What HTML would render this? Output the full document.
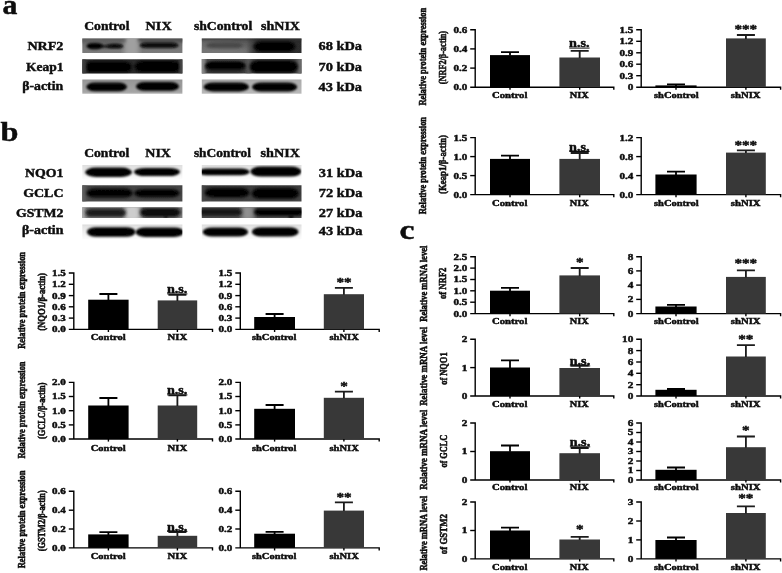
<!DOCTYPE html>
<html lang="en"><head><meta charset="utf-8"><title>Figure</title>
<style>
html,body{margin:0;padding:0;background:#fff;}
body{width:782px;height:573px;overflow:hidden;}
svg{display:block;}
svg text{font-family:"Liberation Serif", "DejaVu Serif", serif;font-weight:bold;fill:#0a0a0a;stroke:#0a0a0a;stroke-width:.42px;}
svg text.r{stroke-width:.55px;}
</style></head><body>
<svg width="782" height="573" viewBox="0 0 782 573">
<defs>
<filter id="b1" x="-20%" y="-60%" width="140%" height="220%"><feGaussianBlur stdDeviation="1.1"/></filter>
<filter id="b2" x="-20%" y="-60%" width="140%" height="220%"><feGaussianBlur stdDeviation="1.8"/></filter>
<filter id="b3" x="-20%" y="-60%" width="140%" height="220%"><feGaussianBlur stdDeviation="2.6"/></filter>
<filter id="soft" x="0" y="0" width="782" height="573" filterUnits="userSpaceOnUse"><feGaussianBlur stdDeviation="0.45"/></filter>
</defs>
<rect width="782" height="573" fill="#fff"/>
<g filter="url(#soft)">

<g>
<text transform="translate(2.4,13.6) scale(1.08,1)" font-size="27.5">a</text>
<text transform="translate(0.5,140.9) scale(1.16,1)" font-size="27.8">b</text>
<text transform="translate(399.4,238.9) scale(1.2,1)" font-size="28">c</text>
</g>
<text x="84.2" y="30.3" font-size="13.4" textLength="45.3" lengthAdjust="spacingAndGlyphs">Control</text>
<text x="145.6" y="30.3" font-size="13.4" textLength="26.1" lengthAdjust="spacingAndGlyphs">NIX</text>
<text x="193.9" y="30.3" font-size="13.4" textLength="58.4" lengthAdjust="spacingAndGlyphs">shControl</text>
<text x="261.0" y="30.3" font-size="13.4" textLength="39.0" lengthAdjust="spacingAndGlyphs">shNIX</text>
<text x="27.4" y="50.4" font-size="13.4" textLength="36.0" lengthAdjust="spacingAndGlyphs">NRF2</text>
<text x="25.9" y="70.8" font-size="13.4" textLength="37.5" lengthAdjust="spacingAndGlyphs">Keap1</text>
<text x="22.2" y="90.2" font-size="13.4" textLength="41.0" lengthAdjust="spacingAndGlyphs">β-actin</text>
<text x="318.5" y="50.3" font-size="13.4" textLength="43.5" lengthAdjust="spacingAndGlyphs">68 kDa</text>
<text x="318.5" y="70.7" font-size="13.4" textLength="43.5" lengthAdjust="spacingAndGlyphs">70 kDa</text>
<text x="318.5" y="90.5" font-size="13.4" textLength="43.5" lengthAdjust="spacingAndGlyphs">43 kDa</text>
<text x="84.2" y="156.9" font-size="13.4" textLength="45.1" lengthAdjust="spacingAndGlyphs">Control</text>
<text x="145.3" y="156.9" font-size="13.4" textLength="25.7" lengthAdjust="spacingAndGlyphs">NIX</text>
<text x="193.9" y="156.9" font-size="13.4" textLength="57.1" lengthAdjust="spacingAndGlyphs">shControl</text>
<text x="260.6" y="156.9" font-size="13.4" textLength="39.4" lengthAdjust="spacingAndGlyphs">shNIX</text>
<text x="25.0" y="176.7" font-size="13.4" textLength="38.5" lengthAdjust="spacingAndGlyphs">NQO1</text>
<text x="23.2" y="196.7" font-size="13.4" textLength="40.3" lengthAdjust="spacingAndGlyphs">GCLC</text>
<text x="15.9" y="216.6" font-size="13.4" textLength="47.6" lengthAdjust="spacingAndGlyphs">GSTM2</text>
<text x="22.0" y="234.4" font-size="13.4" textLength="41.5" lengthAdjust="spacingAndGlyphs">β-actin</text>
<text x="318.8" y="176.7" font-size="13.4" textLength="43.7" lengthAdjust="spacingAndGlyphs">31 kDa</text>
<text x="318.8" y="197.1" font-size="13.4" textLength="43.7" lengthAdjust="spacingAndGlyphs">72 kDa</text>
<text x="318.8" y="216.9" font-size="13.4" textLength="43.7" lengthAdjust="spacingAndGlyphs">27 kDa</text>
<text x="318.8" y="234.9" font-size="13.4" textLength="43.7" lengthAdjust="spacingAndGlyphs">43 kDa</text>
<linearGradient id="gA1" x1="0" y1="0" x2="0" y2="1"><stop offset="0" stop-color="#4a4a4a"/><stop offset="0.18" stop-color="#6c6c6c"/><stop offset="0.6" stop-color="#767676"/><stop offset="1" stop-color="#7e7e7e"/></linearGradient>
<linearGradient id="gA2" x1="0" y1="0" x2="0" y2="1"><stop offset="0" stop-color="#484848"/><stop offset="0.2" stop-color="#2a2a2a"/><stop offset="0.85" stop-color="#262626"/><stop offset="1" stop-color="#333"/></linearGradient>
<linearGradient id="gA3" x1="0" y1="0" x2="0" y2="1"><stop offset="0" stop-color="#6e6e6e"/><stop offset="0.15" stop-color="#959595"/><stop offset="0.75" stop-color="#a5a5a5"/><stop offset="1" stop-color="#cfcfcf"/></linearGradient>
<linearGradient id="gA4" x1="0" y1="0" x2="1" y2="0"><stop offset="0" stop-color="#6a6a6a"/><stop offset="0.45" stop-color="#5c5c5c"/><stop offset="0.55" stop-color="#303030"/><stop offset="1" stop-color="#2c2c2c"/></linearGradient>
<linearGradient id="gA5" x1="0" y1="0" x2="0" y2="1"><stop offset="0" stop-color="#5c5c5c"/><stop offset="0.15" stop-color="#4c4c4c"/><stop offset="0.8" stop-color="#3e3e3e"/><stop offset="1" stop-color="#555"/></linearGradient>
<linearGradient id="gA6" x1="0" y1="0" x2="0" y2="1"><stop offset="0" stop-color="#8a8a8a"/><stop offset="0.2" stop-color="#acacac"/><stop offset="0.8" stop-color="#b8b8b8"/><stop offset="1" stop-color="#d8d8d8"/></linearGradient>
<linearGradient id="gB1" x1="0" y1="0" x2="0" y2="1"><stop offset="0" stop-color="#d8d8d8"/><stop offset="0.4" stop-color="#e8e8e8"/><stop offset="0.8" stop-color="#fbfbfb"/><stop offset="1" stop-color="#fff"/></linearGradient>
<linearGradient id="gB2" x1="0" y1="0" x2="0" y2="1"><stop offset="0" stop-color="#2e2e2e"/><stop offset="0.15" stop-color="#444"/><stop offset="0.8" stop-color="#484848"/><stop offset="1" stop-color="#545454"/></linearGradient>
<linearGradient id="gB3" x1="0" y1="0" x2="0" y2="1"><stop offset="0" stop-color="#555"/><stop offset="0.2" stop-color="#707070"/><stop offset="0.8" stop-color="#808080"/><stop offset="1" stop-color="#8c8c8c"/></linearGradient>
<linearGradient id="gB4" x1="0" y1="0" x2="0" y2="1"><stop offset="0" stop-color="#cfcfcf"/><stop offset="0.25" stop-color="#e4e4e4"/><stop offset="0.8" stop-color="#fafafa"/><stop offset="1" stop-color="#fff"/></linearGradient>
<linearGradient id="gB5" x1="0" y1="0" x2="0" y2="1"><stop offset="0" stop-color="#2a2a2a"/><stop offset="0.15" stop-color="#3c3c3c"/><stop offset="0.8" stop-color="#424242"/><stop offset="1" stop-color="#505050"/></linearGradient>
<linearGradient id="gB6" x1="0" y1="0" x2="0" y2="1"><stop offset="0" stop-color="#3a3a3a"/><stop offset="0.2" stop-color="#4a4a4a"/><stop offset="0.8" stop-color="#505050"/><stop offset="1" stop-color="#5a5a5a"/></linearGradient>
<clipPath id="c1"><rect x="82.3" y="38.6" width="100.1" height="14.4"/></clipPath>
<g clip-path="url(#c1)">
<rect x="79.3" y="35.6" width="106.1" height="20.4" fill="url(#gA1)"/>
<rect x="124" y="34" width="15.0" height="24.0" rx="3" fill="#a0a0a0" opacity="1" filter="url(#b3)"/>
<rect x="80" y="36" width="46.0" height="7.0" rx="3" fill="#5a5a5a" opacity="0.7" filter="url(#b2)"/>
<rect x="138" y="36" width="48.0" height="6.5" rx="3" fill="#4c4c4c" opacity="0.8" filter="url(#b2)"/>
<rect x="100" y="44.5" width="23.6" height="3.4" rx="6" ry="1.7" fill="#262626" opacity="1" filter="url(#b1)"/>
<rect x="86.4" y="42.9" width="16.6" height="6.3" rx="7" ry="3.2" fill="#020202" opacity="1" filter="url(#b1)"/>
<rect x="107" y="44.1" width="15.6" height="4.0" rx="6" ry="2.0" fill="#101010" opacity="1" filter="url(#b1)"/>
<rect x="139.6" y="42.6" width="39.0" height="5.5" rx="7" ry="2.8" fill="#080808" opacity="1" filter="url(#b1)"/>
</g>
<clipPath id="c2"><rect x="82.3" y="59.2" width="100.1" height="14.4"/></clipPath>
<g clip-path="url(#c2)">
<rect x="79.3" y="56.2" width="106.1" height="20.4" fill="url(#gA2)"/>
<rect x="84.5" y="61.4" width="47.5" height="11.2" rx="8" ry="5.6" fill="#000" opacity="1" filter="url(#b2)"/>
<rect x="134.5" y="61" width="46.5" height="11.2" rx="8" ry="5.6" fill="#000" opacity="1" filter="url(#b2)"/>
<rect x="80" y="58" width="6.0" height="18.0" rx="3" fill="#3c3c3c" opacity="1" filter="url(#b2)"/>
<rect x="179.5" y="58" width="6.5" height="18.0" rx="3" fill="#484848" opacity="1" filter="url(#b2)"/>
</g>
<clipPath id="c3"><rect x="82.3" y="79.6" width="100.1" height="14.2"/></clipPath>
<g clip-path="url(#c3)">
<rect x="79.3" y="76.6" width="106.1" height="20.2" fill="url(#gA3)"/>
<rect x="86.3" y="82.5" width="40.7" height="8.7" rx="9" ry="4.4" fill="#000" opacity="1" filter="url(#b1)"/>
<rect x="136" y="82" width="43.0" height="8.8" rx="9" ry="4.4" fill="#000" opacity="1" filter="url(#b1)"/>
</g>
<clipPath id="c4"><rect x="201.8" y="38.6" width="99.7" height="14.4"/></clipPath>
<g clip-path="url(#c4)">
<rect x="198.8" y="35.6" width="105.7" height="20.4" fill="url(#gA4)"/>
<rect x="198" y="34" width="108.0" height="6.0" rx="3" fill="#303030" opacity="0.8" filter="url(#b2)"/>
<rect x="198" y="47" width="50.0" height="11.0" rx="3" fill="#7a7a7a" opacity="0.8" filter="url(#b3)"/>
<rect x="206" y="42.6" width="37.0" height="5.4" rx="8" ry="2.7" fill="#464646" opacity="1" filter="url(#b2)"/>
<rect x="253.5" y="41.6" width="42.0" height="10.0" rx="9" ry="5.0" fill="#000" opacity="1" filter="url(#b2)"/>
</g>
<clipPath id="c5"><rect x="201.8" y="59.1" width="99.7" height="14.4"/></clipPath>
<g clip-path="url(#c5)">
<rect x="198.8" y="56.1" width="105.7" height="20.4" fill="url(#gA5)"/>
<rect x="198" y="56" width="7.5" height="22.0" rx="3" fill="#8a8a8a" opacity="1" filter="url(#b2)"/>
<rect x="297.5" y="56" width="8.5" height="22.0" rx="3" fill="#6a6a6a" opacity="1" filter="url(#b2)"/>
<rect x="246" y="56" width="5.0" height="22.0" rx="3" fill="#5a5a5a" opacity="0.8" filter="url(#b2)"/>
<rect x="205" y="61.6" width="41.0" height="10.8" rx="8" ry="5.4" fill="#262626" opacity="1" filter="url(#b2)"/>
<rect x="205.5" y="61.8" width="39.7" height="7.6" rx="8" ry="3.8" fill="#000" opacity="1" filter="url(#b1)"/>
<rect x="249.5" y="60.2" width="48.5" height="13.0" rx="9" ry="6.5" fill="#000" opacity="1" filter="url(#b2)"/>
</g>
<clipPath id="c6"><rect x="201.8" y="79.6" width="99.7" height="14.2"/></clipPath>
<g clip-path="url(#c6)">
<rect x="198.8" y="76.6" width="105.7" height="20.2" fill="url(#gA6)"/>
<rect x="203.6" y="82.4" width="45.4" height="9.0" rx="10" ry="4.5" fill="#000" opacity="1" filter="url(#b1)"/>
<rect x="252" y="82.4" width="45.2" height="9.2" rx="10" ry="4.6" fill="#000" opacity="1" filter="url(#b1)"/>
</g>
<clipPath id="c7"><rect x="82.3" y="165" width="100.1" height="14.2"/></clipPath>
<g clip-path="url(#c7)">
<rect x="79.3" y="162" width="106.1" height="20.2" fill="url(#gB1)"/>
<rect x="85.2" y="167.6" width="46.8" height="9.3" rx="11" ry="4.7" fill="#000" opacity="1" filter="url(#b1)"/>
<rect x="134" y="167.9" width="46.0" height="8.2" rx="12" ry="4.1" fill="#000" opacity="1" filter="url(#b1)"/>
</g>
<clipPath id="c8"><rect x="82.3" y="185.2" width="100.1" height="16.2"/></clipPath>
<g clip-path="url(#c8)">
<rect x="79.3" y="182.2" width="106.1" height="22.2" fill="url(#gB2)"/>
<rect x="80" y="183" width="6.0" height="21.0" rx="3" fill="#5c5c5c" opacity="1" filter="url(#b2)"/>
<rect x="86.4" y="188.6" width="46.4" height="9.0" rx="9" ry="4.5" fill="#000" opacity="1" filter="url(#b2)"/>
<rect x="134.2" y="189.2" width="45.4" height="8.0" rx="9" ry="4.0" fill="#000" opacity="1" filter="url(#b2)"/>
</g>
<clipPath id="c9"><rect x="82.3" y="207.2" width="100.1" height="10.9"/></clipPath>
<g clip-path="url(#c9)">
<rect x="79.3" y="204.2" width="106.1" height="16.9" fill="url(#gB3)"/>
<rect x="125" y="203" width="15.0" height="19.0" rx="3" fill="#cdcdcd" opacity="1" filter="url(#b3)"/>
<rect x="78" y="203" width="7.0" height="19.0" rx="3" fill="#aaa" opacity="1" filter="url(#b2)"/>
<rect x="85.5" y="208.8" width="40.5" height="8.0" rx="6" ry="4.0" fill="#1e1e1e" opacity="1" filter="url(#b2)"/>
<rect x="140" y="208" width="40.5" height="9.2" rx="6" ry="4.6" fill="#0a0a0a" opacity="1" filter="url(#b2)"/>
<ellipse cx="165.8" cy="216.8" rx="1.6" ry="1.2" fill="#000" opacity="1" filter="url(#b1)"/>
</g>
<clipPath id="c10"><rect x="82.3" y="224.4" width="100.1" height="14.9"/></clipPath>
<g clip-path="url(#c10)">
<rect x="79.3" y="221.4" width="106.1" height="20.9" fill="url(#gB4)"/>
<rect x="86.8" y="227.2" width="48.8" height="9.6" rx="10" ry="4.8" fill="#000" opacity="1" filter="url(#b1)"/>
<rect x="135.6" y="227.4" width="48.4" height="9.6" rx="10" ry="4.8" fill="#000" opacity="1" filter="url(#b1)"/>
</g>
<clipPath id="c11"><rect x="201.8" y="165" width="99.7" height="14.2"/></clipPath>
<g clip-path="url(#c11)">
<rect x="198.8" y="162" width="105.7" height="20.2" fill="url(#gB1)"/>
<rect x="198" y="168.5" width="51.6" height="6.7" rx="9" ry="3.3" fill="#000" opacity="1" filter="url(#b1)"/>
<rect x="250.4" y="166.6" width="51.1" height="10.0" rx="11" ry="5.0" fill="#000" opacity="1" filter="url(#b1)"/>
</g>
<clipPath id="c12"><rect x="201.8" y="185.2" width="99.7" height="16.2"/></clipPath>
<g clip-path="url(#c12)">
<rect x="198.8" y="182.2" width="105.7" height="22.2" fill="url(#gB5)"/>
<rect x="198" y="183" width="6.0" height="21.0" rx="3" fill="#4c4c4c" opacity="1" filter="url(#b2)"/>
<rect x="204.6" y="188" width="45.0" height="9.4" rx="9" ry="4.7" fill="#000" opacity="1" filter="url(#b2)"/>
<rect x="251.6" y="188" width="47.4" height="10.8" rx="9" ry="5.4" fill="#000" opacity="1" filter="url(#b2)"/>
</g>
<clipPath id="c13"><rect x="201.8" y="207.2" width="99.7" height="10.9"/></clipPath>
<g clip-path="url(#c13)">
<rect x="198.8" y="204.2" width="105.7" height="16.9" fill="url(#gB6)"/>
<rect x="241.5" y="203" width="12.5" height="19.0" rx="3" fill="#909090" opacity="1" filter="url(#b3)"/>
<rect x="198" y="208.6" width="44.0" height="7.2" rx="6" ry="3.6" fill="#141414" opacity="1" filter="url(#b2)"/>
<rect x="254" y="208.4" width="50.0" height="7.4" rx="6" ry="3.7" fill="#060606" opacity="1" filter="url(#b2)"/>
<ellipse cx="291" cy="216.8" rx="2.4" ry="1.5" fill="#000" opacity="1" filter="url(#b1)"/>
</g>
<clipPath id="c14"><rect x="201.8" y="224.4" width="99.7" height="14.9"/></clipPath>
<g clip-path="url(#c14)">
<rect x="198.8" y="221.4" width="105.7" height="20.9" fill="url(#gB4)"/>
<rect x="202.6" y="227.4" width="45.6" height="9.2" rx="10" ry="4.6" fill="#000" opacity="1" filter="url(#b1)"/>
<rect x="251.8" y="227.2" width="46.8" height="9.4" rx="10" ry="4.7" fill="#000" opacity="1" filter="url(#b1)"/>
</g>
<path d="M68.8,273.0H73.8V329.4" fill="none" stroke="#000" stroke-width="1.4"/>
<path d="M68.8,329.4H212.5V332.0" fill="none" stroke="#000" stroke-width="1.4"/>
<text x="52.1" y="275.9" font-size="8.6" textLength="13.8" lengthAdjust="spacingAndGlyphs">1.5</text>
<path d="M68.8,284.3H73.8" stroke="#000" stroke-width="1.4"/>
<text x="52.1" y="287.2" font-size="8.6" textLength="13.8" lengthAdjust="spacingAndGlyphs">1.2</text>
<path d="M68.8,295.6H73.8" stroke="#000" stroke-width="1.4"/>
<text x="52.1" y="298.5" font-size="8.6" textLength="13.8" lengthAdjust="spacingAndGlyphs">0.9</text>
<path d="M68.8,306.8H73.8" stroke="#000" stroke-width="1.4"/>
<text x="52.1" y="309.7" font-size="8.6" textLength="13.8" lengthAdjust="spacingAndGlyphs">0.6</text>
<path d="M68.8,318.1H73.8" stroke="#000" stroke-width="1.4"/>
<text x="52.1" y="321.0" font-size="8.6" textLength="13.8" lengthAdjust="spacingAndGlyphs">0.3</text>
<text x="52.1" y="332.3" font-size="8.6" textLength="13.8" lengthAdjust="spacingAndGlyphs">0.0</text>
<rect x="88.2" y="299.7" width="40.4" height="29.7" fill="#020202"/>
<path d="M108.4,300.2V294.0M99.4,294.0H117.4" stroke="#020202" stroke-width="1.8" fill="none"/>
<path d="M108.4,329.4v2.6" stroke="#000" stroke-width="1.4" fill="none"/>
<rect x="157.7" y="300.4" width="39.5" height="29.0" fill="#393939"/>
<path d="M177.4,300.9V294.8M168.4,294.8H186.4" stroke="#1a1a1a" stroke-width="1.8" fill="none"/>
<path d="M177.4,329.4v2.6" stroke="#000" stroke-width="1.4" fill="none"/>
<text x="90.8" y="340.4" font-size="8.6" textLength="34.8" lengthAdjust="spacingAndGlyphs">Control</text>
<text x="167.6" y="340.4" font-size="8.6" textLength="19.6" lengthAdjust="spacingAndGlyphs">NIX</text>
<text x="166.9" y="293.0" font-size="11.5" textLength="20.5" lengthAdjust="spacingAndGlyphs">n.s.</text>
<path d="M167.1,293.9H187.4" stroke="#111" stroke-width="1"/>
<path d="M235.3,273.0H240.3V329.4" fill="none" stroke="#000" stroke-width="1.4"/>
<path d="M235.3,329.4H379.2V332.0" fill="none" stroke="#000" stroke-width="1.4"/>
<text x="218.6" y="275.9" font-size="8.6" textLength="13.8" lengthAdjust="spacingAndGlyphs">1.5</text>
<path d="M235.3,284.3H240.3" stroke="#000" stroke-width="1.4"/>
<text x="218.6" y="287.2" font-size="8.6" textLength="13.8" lengthAdjust="spacingAndGlyphs">1.2</text>
<path d="M235.3,295.6H240.3" stroke="#000" stroke-width="1.4"/>
<text x="218.6" y="298.5" font-size="8.6" textLength="13.8" lengthAdjust="spacingAndGlyphs">0.9</text>
<path d="M235.3,306.8H240.3" stroke="#000" stroke-width="1.4"/>
<text x="218.6" y="309.7" font-size="8.6" textLength="13.8" lengthAdjust="spacingAndGlyphs">0.6</text>
<path d="M235.3,318.1H240.3" stroke="#000" stroke-width="1.4"/>
<text x="218.6" y="321.0" font-size="8.6" textLength="13.8" lengthAdjust="spacingAndGlyphs">0.3</text>
<text x="218.6" y="332.3" font-size="8.6" textLength="13.8" lengthAdjust="spacingAndGlyphs">0.0</text>
<rect x="254.2" y="317.0" width="40.8" height="12.4" fill="#020202"/>
<path d="M274.6,317.5V314.0M265.6,314.0H283.6" stroke="#020202" stroke-width="1.8" fill="none"/>
<path d="M274.6,329.4v2.6" stroke="#000" stroke-width="1.4" fill="none"/>
<rect x="323.8" y="294.2" width="40.2" height="35.2" fill="#393939"/>
<path d="M343.9,294.7V287.9M334.9,287.9H352.9" stroke="#1a1a1a" stroke-width="1.8" fill="none"/>
<path d="M343.9,329.4v2.6" stroke="#000" stroke-width="1.4" fill="none"/>
<text x="252.0" y="340.4" font-size="8.6" textLength="44.5" lengthAdjust="spacingAndGlyphs">shControl</text>
<text x="329.4" y="340.4" font-size="8.6" textLength="29.4" lengthAdjust="spacingAndGlyphs">shNIX</text>
<text x="336.4" y="285.9" font-size="13" textLength="15.2" lengthAdjust="spacingAndGlyphs">**</text>
<path d="M68.8,382.4H73.8V439.0" fill="none" stroke="#000" stroke-width="1.4"/>
<path d="M68.8,439.0H212.5V441.6" fill="none" stroke="#000" stroke-width="1.4"/>
<text x="52.1" y="385.3" font-size="8.6" textLength="13.8" lengthAdjust="spacingAndGlyphs">2.0</text>
<path d="M68.8,396.5H73.8" stroke="#000" stroke-width="1.4"/>
<text x="52.1" y="399.4" font-size="8.6" textLength="13.8" lengthAdjust="spacingAndGlyphs">1.5</text>
<path d="M68.8,410.7H73.8" stroke="#000" stroke-width="1.4"/>
<text x="52.1" y="413.6" font-size="8.6" textLength="13.8" lengthAdjust="spacingAndGlyphs">1.0</text>
<path d="M68.8,424.9H73.8" stroke="#000" stroke-width="1.4"/>
<text x="52.1" y="427.8" font-size="8.6" textLength="13.8" lengthAdjust="spacingAndGlyphs">0.5</text>
<text x="52.1" y="441.9" font-size="8.6" textLength="13.8" lengthAdjust="spacingAndGlyphs">0.0</text>
<rect x="88.2" y="405.5" width="40.4" height="33.5" fill="#020202"/>
<path d="M108.4,406.0V398.0M99.4,398.0H117.4" stroke="#020202" stroke-width="1.8" fill="none"/>
<path d="M108.4,439.0v2.6" stroke="#000" stroke-width="1.4" fill="none"/>
<rect x="157.7" y="405.5" width="39.5" height="33.5" fill="#393939"/>
<path d="M177.4,406.0V395.4M168.4,395.4H186.4" stroke="#1a1a1a" stroke-width="1.8" fill="none"/>
<path d="M177.4,439.0v2.6" stroke="#000" stroke-width="1.4" fill="none"/>
<text x="90.8" y="450.6" font-size="8.6" textLength="34.8" lengthAdjust="spacingAndGlyphs">Control</text>
<text x="167.6" y="450.6" font-size="8.6" textLength="19.6" lengthAdjust="spacingAndGlyphs">NIX</text>
<text x="166.9" y="394.0" font-size="11.5" textLength="20.5" lengthAdjust="spacingAndGlyphs">n.s.</text>
<path d="M167.1,394.9H187.4" stroke="#111" stroke-width="1"/>
<path d="M235.3,382.4H240.3V439.0" fill="none" stroke="#000" stroke-width="1.4"/>
<path d="M235.3,439.0H379.2V441.6" fill="none" stroke="#000" stroke-width="1.4"/>
<text x="218.6" y="385.3" font-size="8.6" textLength="13.8" lengthAdjust="spacingAndGlyphs">2.0</text>
<path d="M235.3,396.5H240.3" stroke="#000" stroke-width="1.4"/>
<text x="218.6" y="399.4" font-size="8.6" textLength="13.8" lengthAdjust="spacingAndGlyphs">1.5</text>
<path d="M235.3,410.7H240.3" stroke="#000" stroke-width="1.4"/>
<text x="218.6" y="413.6" font-size="8.6" textLength="13.8" lengthAdjust="spacingAndGlyphs">1.0</text>
<path d="M235.3,424.9H240.3" stroke="#000" stroke-width="1.4"/>
<text x="218.6" y="427.8" font-size="8.6" textLength="13.8" lengthAdjust="spacingAndGlyphs">0.5</text>
<text x="218.6" y="441.9" font-size="8.6" textLength="13.8" lengthAdjust="spacingAndGlyphs">0.0</text>
<rect x="254.2" y="408.8" width="40.8" height="30.2" fill="#020202"/>
<path d="M274.6,409.3V405.0M265.6,405.0H283.6" stroke="#020202" stroke-width="1.8" fill="none"/>
<path d="M274.6,439.0v2.6" stroke="#000" stroke-width="1.4" fill="none"/>
<rect x="323.8" y="397.8" width="40.2" height="41.2" fill="#393939"/>
<path d="M343.9,398.3V391.7M334.9,391.7H352.9" stroke="#1a1a1a" stroke-width="1.8" fill="none"/>
<path d="M343.9,439.0v2.6" stroke="#000" stroke-width="1.4" fill="none"/>
<text x="252.0" y="450.6" font-size="8.6" textLength="44.5" lengthAdjust="spacingAndGlyphs">shControl</text>
<text x="329.4" y="450.6" font-size="8.6" textLength="29.4" lengthAdjust="spacingAndGlyphs">shNIX</text>
<text x="340.2" y="389.5" font-size="13" textLength="7.6" lengthAdjust="spacingAndGlyphs">*</text>
<path d="M68.8,491.3H73.8V547.9" fill="none" stroke="#000" stroke-width="1.4"/>
<path d="M68.8,547.9H212.5V550.5" fill="none" stroke="#000" stroke-width="1.4"/>
<text x="52.1" y="494.2" font-size="8.6" textLength="13.8" lengthAdjust="spacingAndGlyphs">0.6</text>
<path d="M68.8,510.2H73.8" stroke="#000" stroke-width="1.4"/>
<text x="52.1" y="513.1" font-size="8.6" textLength="13.8" lengthAdjust="spacingAndGlyphs">0.4</text>
<path d="M68.8,529.0H73.8" stroke="#000" stroke-width="1.4"/>
<text x="52.1" y="531.9" font-size="8.6" textLength="13.8" lengthAdjust="spacingAndGlyphs">0.2</text>
<text x="52.1" y="550.8" font-size="8.6" textLength="13.8" lengthAdjust="spacingAndGlyphs">0.0</text>
<rect x="88.2" y="534.4" width="40.4" height="13.5" fill="#020202"/>
<path d="M108.4,534.9V532.2M99.4,532.2H117.4" stroke="#020202" stroke-width="1.8" fill="none"/>
<path d="M108.4,547.9v2.6" stroke="#000" stroke-width="1.4" fill="none"/>
<rect x="157.7" y="535.8" width="39.5" height="12.1" fill="#393939"/>
<path d="M177.4,536.3V532.2M168.4,532.2H186.4" stroke="#1a1a1a" stroke-width="1.8" fill="none"/>
<path d="M177.4,547.9v2.6" stroke="#000" stroke-width="1.4" fill="none"/>
<text x="90.8" y="558.9" font-size="8.6" textLength="34.8" lengthAdjust="spacingAndGlyphs">Control</text>
<text x="167.6" y="558.9" font-size="8.6" textLength="19.6" lengthAdjust="spacingAndGlyphs">NIX</text>
<text x="166.9" y="530.5" font-size="11.5" textLength="20.5" lengthAdjust="spacingAndGlyphs">n.s.</text>
<path d="M167.1,531.4H187.4" stroke="#111" stroke-width="1"/>
<path d="M235.3,491.3H240.3V547.9" fill="none" stroke="#000" stroke-width="1.4"/>
<path d="M235.3,547.9H379.2V550.5" fill="none" stroke="#000" stroke-width="1.4"/>
<text x="218.6" y="494.2" font-size="8.6" textLength="13.8" lengthAdjust="spacingAndGlyphs">0.6</text>
<path d="M235.3,510.2H240.3" stroke="#000" stroke-width="1.4"/>
<text x="218.6" y="513.1" font-size="8.6" textLength="13.8" lengthAdjust="spacingAndGlyphs">0.4</text>
<path d="M235.3,529.0H240.3" stroke="#000" stroke-width="1.4"/>
<text x="218.6" y="531.9" font-size="8.6" textLength="13.8" lengthAdjust="spacingAndGlyphs">0.2</text>
<text x="218.6" y="550.8" font-size="8.6" textLength="13.8" lengthAdjust="spacingAndGlyphs">0.0</text>
<rect x="254.2" y="533.7" width="40.8" height="14.2" fill="#020202"/>
<path d="M274.6,534.2V531.8M265.6,531.8H283.6" stroke="#020202" stroke-width="1.8" fill="none"/>
<path d="M274.6,547.9v2.6" stroke="#000" stroke-width="1.4" fill="none"/>
<rect x="323.8" y="510.6" width="40.2" height="37.3" fill="#393939"/>
<path d="M343.9,511.1V502.4M334.9,502.4H352.9" stroke="#1a1a1a" stroke-width="1.8" fill="none"/>
<path d="M343.9,547.9v2.6" stroke="#000" stroke-width="1.4" fill="none"/>
<text x="252.0" y="558.9" font-size="8.6" textLength="44.5" lengthAdjust="spacingAndGlyphs">shControl</text>
<text x="329.4" y="558.9" font-size="8.6" textLength="29.4" lengthAdjust="spacingAndGlyphs">shNIX</text>
<text x="336.4" y="500.9" font-size="13" textLength="15.2" lengthAdjust="spacingAndGlyphs">**</text>
<text class="r" transform="translate(24.5,348.8) rotate(-90)" font-size="11.4" textLength="96.8" lengthAdjust="spacingAndGlyphs">Relative protein expression</text>
<text class="r" transform="translate(45.0,330.8) rotate(-90)" font-size="11.4" textLength="57.8" lengthAdjust="spacingAndGlyphs">(NQO1/β-actin)</text>
<text class="r" transform="translate(24.6,458.6) rotate(-90)" font-size="11.4" textLength="97.1" lengthAdjust="spacingAndGlyphs">Relative protein expression</text>
<text class="r" transform="translate(44.6,439.0) rotate(-90)" font-size="11.4" textLength="56.4" lengthAdjust="spacingAndGlyphs">(GCLC/β-actin)</text>
<text class="r" transform="translate(24.5,568.3) rotate(-90)" font-size="11.4" textLength="97.8" lengthAdjust="spacingAndGlyphs">Relative protein expression</text>
<text class="r" transform="translate(44.8,551.2) rotate(-90)" font-size="11.4" textLength="60.9" lengthAdjust="spacingAndGlyphs">(GSTM2/β-actin)</text>
<path d="M470.2,29.8H475.2V87.2" fill="none" stroke="#000" stroke-width="1.4"/>
<path d="M470.2,87.2H613.8V89.8" fill="none" stroke="#000" stroke-width="1.4"/>
<text x="453.5" y="32.7" font-size="8.6" textLength="13.8" lengthAdjust="spacingAndGlyphs">0.6</text>
<path d="M470.2,48.9H475.2" stroke="#000" stroke-width="1.4"/>
<text x="453.5" y="51.8" font-size="8.6" textLength="13.8" lengthAdjust="spacingAndGlyphs">0.4</text>
<path d="M470.2,68.1H475.2" stroke="#000" stroke-width="1.4"/>
<text x="453.5" y="71.0" font-size="8.6" textLength="13.8" lengthAdjust="spacingAndGlyphs">0.2</text>
<text x="453.5" y="90.1" font-size="8.6" textLength="13.8" lengthAdjust="spacingAndGlyphs">0.0</text>
<rect x="490.0" y="55.1" width="40.0" height="32.1" fill="#020202"/>
<path d="M510.0,55.6V52.2M501.0,52.2H519.0" stroke="#020202" stroke-width="1.8" fill="none"/>
<path d="M510.0,87.2v2.6" stroke="#000" stroke-width="1.4" fill="none"/>
<rect x="559.4" y="57.5" width="40.6" height="29.7" fill="#393939"/>
<path d="M579.7,58.0V50.8M570.7,50.8H588.7" stroke="#1a1a1a" stroke-width="1.8" fill="none"/>
<path d="M579.7,87.2v2.6" stroke="#000" stroke-width="1.4" fill="none"/>
<text x="492.0" y="98.2" font-size="8.6" textLength="35.4" lengthAdjust="spacingAndGlyphs">Control</text>
<text x="569.8" y="98.2" font-size="8.6" textLength="19.0" lengthAdjust="spacingAndGlyphs">NIX</text>
<text x="569.1" y="47.2" font-size="11.5" textLength="20.5" lengthAdjust="spacingAndGlyphs">n.s.</text>
<path d="M569.3,48.1H589.6" stroke="#111" stroke-width="1"/>
<path d="M636.2,29.8H641.2V87.2" fill="none" stroke="#000" stroke-width="1.4"/>
<path d="M636.2,87.2H780.6V89.8" fill="none" stroke="#000" stroke-width="1.4"/>
<text x="619.5" y="32.7" font-size="8.6" textLength="13.8" lengthAdjust="spacingAndGlyphs">1.5</text>
<path d="M636.2,41.3H641.2" stroke="#000" stroke-width="1.4"/>
<text x="619.5" y="44.2" font-size="8.6" textLength="13.8" lengthAdjust="spacingAndGlyphs">1.2</text>
<path d="M636.2,52.8H641.2" stroke="#000" stroke-width="1.4"/>
<text x="619.5" y="55.7" font-size="8.6" textLength="13.8" lengthAdjust="spacingAndGlyphs">0.9</text>
<path d="M636.2,64.2H641.2" stroke="#000" stroke-width="1.4"/>
<text x="619.5" y="67.1" font-size="8.6" textLength="13.8" lengthAdjust="spacingAndGlyphs">0.6</text>
<path d="M636.2,75.7H641.2" stroke="#000" stroke-width="1.4"/>
<text x="619.5" y="78.6" font-size="8.6" textLength="13.8" lengthAdjust="spacingAndGlyphs">0.3</text>
<text x="627.7" y="90.1" font-size="8.6" textLength="5.6" lengthAdjust="spacingAndGlyphs">0</text>
<rect x="655.4" y="85.4" width="41.2" height="1.8" fill="#020202"/>
<path d="M676.0,85.9V84.4M667.0,84.4H685.0" stroke="#020202" stroke-width="1.8" fill="none"/>
<path d="M676.0,87.2v2.6" stroke="#000" stroke-width="1.4" fill="none"/>
<rect x="726.0" y="38.4" width="39.8" height="48.8" fill="#393939"/>
<path d="M745.9,38.9V35.0M736.9,35.0H754.9" stroke="#1a1a1a" stroke-width="1.8" fill="none"/>
<path d="M745.9,87.2v2.6" stroke="#000" stroke-width="1.4" fill="none"/>
<text x="654.0" y="98.2" font-size="8.6" textLength="44.6" lengthAdjust="spacingAndGlyphs">shControl</text>
<text x="730.8" y="98.2" font-size="8.6" textLength="29.8" lengthAdjust="spacingAndGlyphs">shNIX</text>
<text x="734.4" y="32.5" font-size="13" textLength="22.8" lengthAdjust="spacingAndGlyphs">***</text>
<path d="M470.2,137.6H475.2V194.6" fill="none" stroke="#000" stroke-width="1.4"/>
<path d="M470.2,194.6H613.8V197.2" fill="none" stroke="#000" stroke-width="1.4"/>
<text x="453.5" y="140.5" font-size="8.6" textLength="13.8" lengthAdjust="spacingAndGlyphs">1.5</text>
<path d="M470.2,156.6H475.2" stroke="#000" stroke-width="1.4"/>
<text x="453.5" y="159.5" font-size="8.6" textLength="13.8" lengthAdjust="spacingAndGlyphs">1.0</text>
<path d="M470.2,175.6H475.2" stroke="#000" stroke-width="1.4"/>
<text x="453.5" y="178.5" font-size="8.6" textLength="13.8" lengthAdjust="spacingAndGlyphs">0.5</text>
<text x="453.5" y="197.5" font-size="8.6" textLength="13.8" lengthAdjust="spacingAndGlyphs">0.0</text>
<rect x="490.0" y="158.9" width="40.0" height="35.7" fill="#020202"/>
<path d="M510.0,159.4V155.6M501.0,155.6H519.0" stroke="#020202" stroke-width="1.8" fill="none"/>
<path d="M510.0,194.6v2.6" stroke="#000" stroke-width="1.4" fill="none"/>
<rect x="559.4" y="158.9" width="40.6" height="35.7" fill="#393939"/>
<path d="M579.7,159.4V153.0M570.7,153.0H588.7" stroke="#1a1a1a" stroke-width="1.8" fill="none"/>
<path d="M579.7,194.6v2.6" stroke="#000" stroke-width="1.4" fill="none"/>
<text x="492.0" y="205.6" font-size="8.6" textLength="35.4" lengthAdjust="spacingAndGlyphs">Control</text>
<text x="569.8" y="205.6" font-size="8.6" textLength="19.0" lengthAdjust="spacingAndGlyphs">NIX</text>
<text x="569.1" y="150.6" font-size="11.5" textLength="20.5" lengthAdjust="spacingAndGlyphs">n.s.</text>
<path d="M569.3,151.5H589.6" stroke="#111" stroke-width="1"/>
<path d="M636.2,137.6H641.2V194.6" fill="none" stroke="#000" stroke-width="1.4"/>
<path d="M636.2,194.6H780.6V197.2" fill="none" stroke="#000" stroke-width="1.4"/>
<text x="619.5" y="140.5" font-size="8.6" textLength="13.8" lengthAdjust="spacingAndGlyphs">1.2</text>
<path d="M636.2,156.6H641.2" stroke="#000" stroke-width="1.4"/>
<text x="619.5" y="159.5" font-size="8.6" textLength="13.8" lengthAdjust="spacingAndGlyphs">0.8</text>
<path d="M636.2,175.6H641.2" stroke="#000" stroke-width="1.4"/>
<text x="619.5" y="178.5" font-size="8.6" textLength="13.8" lengthAdjust="spacingAndGlyphs">0.4</text>
<text x="619.5" y="197.5" font-size="8.6" textLength="13.8" lengthAdjust="spacingAndGlyphs">0.0</text>
<rect x="655.4" y="174.5" width="41.2" height="20.1" fill="#020202"/>
<path d="M676.0,175.0V171.7M667.0,171.7H685.0" stroke="#020202" stroke-width="1.8" fill="none"/>
<path d="M676.0,194.6v2.6" stroke="#000" stroke-width="1.4" fill="none"/>
<rect x="726.0" y="152.6" width="39.8" height="42.0" fill="#393939"/>
<path d="M745.9,153.1V150.3M736.9,150.3H754.9" stroke="#1a1a1a" stroke-width="1.8" fill="none"/>
<path d="M745.9,194.6v2.6" stroke="#000" stroke-width="1.4" fill="none"/>
<text x="654.0" y="205.6" font-size="8.6" textLength="44.6" lengthAdjust="spacingAndGlyphs">shControl</text>
<text x="730.8" y="205.6" font-size="8.6" textLength="29.8" lengthAdjust="spacingAndGlyphs">shNIX</text>
<text x="734.4" y="148.7" font-size="13" textLength="22.8" lengthAdjust="spacingAndGlyphs">***</text>
<text class="r" transform="translate(425.6,105.6) rotate(-90)" font-size="11.4" textLength="97.9" lengthAdjust="spacingAndGlyphs">Relative protein expression</text>
<text class="r" transform="translate(446.0,84.2) rotate(-90)" font-size="11.4" textLength="53.2" lengthAdjust="spacingAndGlyphs">(NRF2/β-actin)</text>
<text class="r" transform="translate(425.6,214.2) rotate(-90)" font-size="11.4" textLength="97.2" lengthAdjust="spacingAndGlyphs">Relative protein expression</text>
<text class="r" transform="translate(445.8,194.0) rotate(-90)" font-size="11.4" textLength="59.0" lengthAdjust="spacingAndGlyphs">(Keap1/β-actin)</text>
<path d="M470.2,256.7H475.2V313.6" fill="none" stroke="#000" stroke-width="1.4"/>
<path d="M470.2,313.6H613.8V316.2" fill="none" stroke="#000" stroke-width="1.4"/>
<text x="453.5" y="259.6" font-size="8.6" textLength="13.8" lengthAdjust="spacingAndGlyphs">2.5</text>
<path d="M470.2,268.1H475.2" stroke="#000" stroke-width="1.4"/>
<text x="453.5" y="271.0" font-size="8.6" textLength="13.8" lengthAdjust="spacingAndGlyphs">2.0</text>
<path d="M470.2,279.5H475.2" stroke="#000" stroke-width="1.4"/>
<text x="453.5" y="282.4" font-size="8.6" textLength="13.8" lengthAdjust="spacingAndGlyphs">1.5</text>
<path d="M470.2,290.8H475.2" stroke="#000" stroke-width="1.4"/>
<text x="453.5" y="293.7" font-size="8.6" textLength="13.8" lengthAdjust="spacingAndGlyphs">1.0</text>
<path d="M470.2,302.2H475.2" stroke="#000" stroke-width="1.4"/>
<text x="453.5" y="305.1" font-size="8.6" textLength="13.8" lengthAdjust="spacingAndGlyphs">0.5</text>
<text x="453.5" y="316.5" font-size="8.6" textLength="13.8" lengthAdjust="spacingAndGlyphs">0.0</text>
<rect x="490.0" y="290.7" width="40.0" height="22.9" fill="#020202"/>
<path d="M510.0,291.2V287.8M501.0,287.8H519.0" stroke="#020202" stroke-width="1.8" fill="none"/>
<path d="M510.0,313.6v2.6" stroke="#000" stroke-width="1.4" fill="none"/>
<rect x="559.4" y="275.4" width="40.6" height="38.2" fill="#393939"/>
<path d="M579.7,275.9V268.0M570.7,268.0H588.7" stroke="#1a1a1a" stroke-width="1.8" fill="none"/>
<path d="M579.7,313.6v2.6" stroke="#000" stroke-width="1.4" fill="none"/>
<text x="492.0" y="323.9" font-size="8.6" textLength="35.4" lengthAdjust="spacingAndGlyphs">Control</text>
<text x="569.8" y="323.9" font-size="8.6" textLength="19.0" lengthAdjust="spacingAndGlyphs">NIX</text>
<text x="576.0" y="265.5" font-size="13" textLength="7.6" lengthAdjust="spacingAndGlyphs">*</text>
<path d="M636.2,256.7H641.2V313.6" fill="none" stroke="#000" stroke-width="1.4"/>
<path d="M636.2,313.6H780.6V316.2" fill="none" stroke="#000" stroke-width="1.4"/>
<text x="627.7" y="259.6" font-size="8.6" textLength="5.6" lengthAdjust="spacingAndGlyphs">8</text>
<path d="M636.2,270.9H641.2" stroke="#000" stroke-width="1.4"/>
<text x="627.7" y="273.8" font-size="8.6" textLength="5.6" lengthAdjust="spacingAndGlyphs">6</text>
<path d="M636.2,285.1H641.2" stroke="#000" stroke-width="1.4"/>
<text x="627.7" y="288.0" font-size="8.6" textLength="5.6" lengthAdjust="spacingAndGlyphs">4</text>
<path d="M636.2,299.4H641.2" stroke="#000" stroke-width="1.4"/>
<text x="627.7" y="302.3" font-size="8.6" textLength="5.6" lengthAdjust="spacingAndGlyphs">2</text>
<text x="627.7" y="316.5" font-size="8.6" textLength="5.6" lengthAdjust="spacingAndGlyphs">0</text>
<rect x="655.4" y="306.5" width="41.2" height="7.1" fill="#020202"/>
<path d="M676.0,307.0V304.8M667.0,304.8H685.0" stroke="#020202" stroke-width="1.8" fill="none"/>
<path d="M676.0,313.6v2.6" stroke="#000" stroke-width="1.4" fill="none"/>
<rect x="726.0" y="276.9" width="39.8" height="36.7" fill="#393939"/>
<path d="M745.9,277.4V270.4M736.9,270.4H754.9" stroke="#1a1a1a" stroke-width="1.8" fill="none"/>
<path d="M745.9,313.6v2.6" stroke="#000" stroke-width="1.4" fill="none"/>
<text x="654.0" y="323.9" font-size="8.6" textLength="44.6" lengthAdjust="spacingAndGlyphs">shControl</text>
<text x="730.8" y="323.9" font-size="8.6" textLength="29.8" lengthAdjust="spacingAndGlyphs">shNIX</text>
<text x="734.4" y="267.3" font-size="13" textLength="22.8" lengthAdjust="spacingAndGlyphs">***</text>
<path d="M470.2,339.3H475.2V396.0" fill="none" stroke="#000" stroke-width="1.4"/>
<path d="M470.2,396.0H613.8V398.6" fill="none" stroke="#000" stroke-width="1.4"/>
<text x="461.7" y="342.2" font-size="8.6" textLength="5.6" lengthAdjust="spacingAndGlyphs">2</text>
<path d="M470.2,367.6H475.2" stroke="#000" stroke-width="1.4"/>
<text x="461.7" y="370.5" font-size="8.6" textLength="5.6" lengthAdjust="spacingAndGlyphs">1</text>
<text x="461.7" y="398.9" font-size="8.6" textLength="5.6" lengthAdjust="spacingAndGlyphs">0</text>
<rect x="490.0" y="367.5" width="40.0" height="28.5" fill="#020202"/>
<path d="M510.0,368.0V360.3M501.0,360.3H519.0" stroke="#020202" stroke-width="1.8" fill="none"/>
<path d="M510.0,396.0v2.6" stroke="#000" stroke-width="1.4" fill="none"/>
<rect x="559.4" y="368.0" width="40.6" height="28.0" fill="#393939"/>
<path d="M579.7,368.5V365.5M570.7,365.5H588.7" stroke="#1a1a1a" stroke-width="1.8" fill="none"/>
<path d="M579.7,396.0v2.6" stroke="#000" stroke-width="1.4" fill="none"/>
<text x="492.0" y="406.8" font-size="8.6" textLength="35.4" lengthAdjust="spacingAndGlyphs">Control</text>
<text x="569.8" y="406.8" font-size="8.6" textLength="19.0" lengthAdjust="spacingAndGlyphs">NIX</text>
<text x="569.7" y="365.0" font-size="11.5" textLength="20.5" lengthAdjust="spacingAndGlyphs">n.s.</text>
<path d="M569.9,365.9H590.2" stroke="#111" stroke-width="1"/>
<path d="M636.2,339.3H641.2V396.0" fill="none" stroke="#000" stroke-width="1.4"/>
<path d="M636.2,396.0H780.6V398.6" fill="none" stroke="#000" stroke-width="1.4"/>
<text x="622.1" y="342.2" font-size="8.6" textLength="11.2" lengthAdjust="spacingAndGlyphs">10</text>
<path d="M636.2,350.6H641.2" stroke="#000" stroke-width="1.4"/>
<text x="627.7" y="353.5" font-size="8.6" textLength="5.6" lengthAdjust="spacingAndGlyphs">8</text>
<path d="M636.2,362.0H641.2" stroke="#000" stroke-width="1.4"/>
<text x="627.7" y="364.9" font-size="8.6" textLength="5.6" lengthAdjust="spacingAndGlyphs">6</text>
<path d="M636.2,373.3H641.2" stroke="#000" stroke-width="1.4"/>
<text x="627.7" y="376.2" font-size="8.6" textLength="5.6" lengthAdjust="spacingAndGlyphs">4</text>
<path d="M636.2,384.7H641.2" stroke="#000" stroke-width="1.4"/>
<text x="627.7" y="387.6" font-size="8.6" textLength="5.6" lengthAdjust="spacingAndGlyphs">2</text>
<text x="627.7" y="398.9" font-size="8.6" textLength="5.6" lengthAdjust="spacingAndGlyphs">0</text>
<rect x="655.4" y="389.8" width="41.2" height="6.2" fill="#020202"/>
<path d="M676.0,390.3V389.0M667.0,389.0H685.0" stroke="#020202" stroke-width="1.8" fill="none"/>
<path d="M676.0,396.0v2.6" stroke="#000" stroke-width="1.4" fill="none"/>
<rect x="726.0" y="356.5" width="39.8" height="39.5" fill="#393939"/>
<path d="M745.9,357.0V345.1M736.9,345.1H754.9" stroke="#1a1a1a" stroke-width="1.8" fill="none"/>
<path d="M745.9,396.0v2.6" stroke="#000" stroke-width="1.4" fill="none"/>
<text x="654.0" y="406.8" font-size="8.6" textLength="44.6" lengthAdjust="spacingAndGlyphs">shControl</text>
<text x="730.8" y="406.8" font-size="8.6" textLength="29.8" lengthAdjust="spacingAndGlyphs">shNIX</text>
<text x="738.2" y="342.5" font-size="13" textLength="15.2" lengthAdjust="spacingAndGlyphs">**</text>
<path d="M470.2,423.0H475.2V480.0" fill="none" stroke="#000" stroke-width="1.4"/>
<path d="M470.2,480.0H613.8V482.6" fill="none" stroke="#000" stroke-width="1.4"/>
<text x="461.7" y="425.9" font-size="8.6" textLength="5.6" lengthAdjust="spacingAndGlyphs">2</text>
<path d="M470.2,451.5H475.2" stroke="#000" stroke-width="1.4"/>
<text x="461.7" y="454.4" font-size="8.6" textLength="5.6" lengthAdjust="spacingAndGlyphs">1</text>
<text x="461.7" y="482.9" font-size="8.6" textLength="5.6" lengthAdjust="spacingAndGlyphs">0</text>
<rect x="490.0" y="451.2" width="40.0" height="28.8" fill="#020202"/>
<path d="M510.0,451.7V445.5M501.0,445.5H519.0" stroke="#020202" stroke-width="1.8" fill="none"/>
<path d="M510.0,480.0v2.6" stroke="#000" stroke-width="1.4" fill="none"/>
<rect x="559.4" y="453.2" width="40.6" height="26.8" fill="#393939"/>
<path d="M579.7,453.7V448.0M570.7,448.0H588.7" stroke="#1a1a1a" stroke-width="1.8" fill="none"/>
<path d="M579.7,480.0v2.6" stroke="#000" stroke-width="1.4" fill="none"/>
<text x="492.0" y="490.0" font-size="8.6" textLength="35.4" lengthAdjust="spacingAndGlyphs">Control</text>
<text x="569.8" y="490.0" font-size="8.6" textLength="19.0" lengthAdjust="spacingAndGlyphs">NIX</text>
<text x="569.7" y="445.9" font-size="11.5" textLength="20.5" lengthAdjust="spacingAndGlyphs">n.s.</text>
<path d="M569.9,446.8H590.2" stroke="#111" stroke-width="1"/>
<path d="M636.2,423.0H641.2V480.0" fill="none" stroke="#000" stroke-width="1.4"/>
<path d="M636.2,480.0H780.6V482.6" fill="none" stroke="#000" stroke-width="1.4"/>
<text x="627.7" y="425.9" font-size="8.6" textLength="5.6" lengthAdjust="spacingAndGlyphs">6</text>
<path d="M636.2,432.5H641.2" stroke="#000" stroke-width="1.4"/>
<text x="627.7" y="435.4" font-size="8.6" textLength="5.6" lengthAdjust="spacingAndGlyphs">5</text>
<path d="M636.2,442.0H641.2" stroke="#000" stroke-width="1.4"/>
<text x="627.7" y="444.9" font-size="8.6" textLength="5.6" lengthAdjust="spacingAndGlyphs">4</text>
<path d="M636.2,451.5H641.2" stroke="#000" stroke-width="1.4"/>
<text x="627.7" y="454.4" font-size="8.6" textLength="5.6" lengthAdjust="spacingAndGlyphs">3</text>
<path d="M636.2,461.0H641.2" stroke="#000" stroke-width="1.4"/>
<text x="627.7" y="463.9" font-size="8.6" textLength="5.6" lengthAdjust="spacingAndGlyphs">2</text>
<path d="M636.2,470.5H641.2" stroke="#000" stroke-width="1.4"/>
<text x="627.7" y="473.4" font-size="8.6" textLength="5.6" lengthAdjust="spacingAndGlyphs">1</text>
<text x="627.7" y="482.9" font-size="8.6" textLength="5.6" lengthAdjust="spacingAndGlyphs">0</text>
<rect x="655.4" y="469.8" width="41.2" height="10.2" fill="#020202"/>
<path d="M676.0,470.3V467.5M667.0,467.5H685.0" stroke="#020202" stroke-width="1.8" fill="none"/>
<path d="M676.0,480.0v2.6" stroke="#000" stroke-width="1.4" fill="none"/>
<rect x="726.0" y="447.2" width="39.8" height="32.8" fill="#393939"/>
<path d="M745.9,447.7V436.5M736.9,436.5H754.9" stroke="#1a1a1a" stroke-width="1.8" fill="none"/>
<path d="M745.9,480.0v2.6" stroke="#000" stroke-width="1.4" fill="none"/>
<text x="654.0" y="490.0" font-size="8.6" textLength="44.6" lengthAdjust="spacingAndGlyphs">shControl</text>
<text x="730.8" y="490.0" font-size="8.6" textLength="29.8" lengthAdjust="spacingAndGlyphs">shNIX</text>
<text x="742.0" y="433.5" font-size="13" textLength="7.6" lengthAdjust="spacingAndGlyphs">*</text>
<path d="M470.2,502.0H475.2V558.9" fill="none" stroke="#000" stroke-width="1.4"/>
<path d="M470.2,558.9H613.8V561.5" fill="none" stroke="#000" stroke-width="1.4"/>
<text x="461.7" y="504.9" font-size="8.6" textLength="5.6" lengthAdjust="spacingAndGlyphs">2</text>
<path d="M470.2,530.5H475.2" stroke="#000" stroke-width="1.4"/>
<text x="461.7" y="533.4" font-size="8.6" textLength="5.6" lengthAdjust="spacingAndGlyphs">1</text>
<text x="461.7" y="561.8" font-size="8.6" textLength="5.6" lengthAdjust="spacingAndGlyphs">0</text>
<rect x="490.0" y="530.5" width="40.0" height="28.4" fill="#020202"/>
<path d="M510.0,531.0V527.7M501.0,527.7H519.0" stroke="#020202" stroke-width="1.8" fill="none"/>
<path d="M510.0,558.9v2.6" stroke="#000" stroke-width="1.4" fill="none"/>
<rect x="559.4" y="539.5" width="40.6" height="19.4" fill="#393939"/>
<path d="M579.7,540.0V536.9M570.7,536.9H588.7" stroke="#1a1a1a" stroke-width="1.8" fill="none"/>
<path d="M579.7,558.9v2.6" stroke="#000" stroke-width="1.4" fill="none"/>
<text x="492.0" y="569.5" font-size="8.6" textLength="35.4" lengthAdjust="spacingAndGlyphs">Control</text>
<text x="569.8" y="569.5" font-size="8.6" textLength="19.0" lengthAdjust="spacingAndGlyphs">NIX</text>
<text x="576.0" y="533.3" font-size="13" textLength="7.6" lengthAdjust="spacingAndGlyphs">*</text>
<path d="M636.2,502.0H641.2V558.9" fill="none" stroke="#000" stroke-width="1.4"/>
<path d="M636.2,558.9H780.6V561.5" fill="none" stroke="#000" stroke-width="1.4"/>
<text x="627.7" y="504.9" font-size="8.6" textLength="5.6" lengthAdjust="spacingAndGlyphs">3</text>
<path d="M636.2,521.0H641.2" stroke="#000" stroke-width="1.4"/>
<text x="627.7" y="523.9" font-size="8.6" textLength="5.6" lengthAdjust="spacingAndGlyphs">2</text>
<path d="M636.2,539.9H641.2" stroke="#000" stroke-width="1.4"/>
<text x="627.7" y="542.8" font-size="8.6" textLength="5.6" lengthAdjust="spacingAndGlyphs">1</text>
<text x="627.7" y="561.8" font-size="8.6" textLength="5.6" lengthAdjust="spacingAndGlyphs">0</text>
<rect x="655.4" y="540.0" width="41.2" height="18.9" fill="#020202"/>
<path d="M676.0,540.5V537.5M667.0,537.5H685.0" stroke="#020202" stroke-width="1.8" fill="none"/>
<path d="M676.0,558.9v2.6" stroke="#000" stroke-width="1.4" fill="none"/>
<rect x="726.0" y="513.0" width="39.8" height="45.9" fill="#393939"/>
<path d="M745.9,513.5V506.3M736.9,506.3H754.9" stroke="#1a1a1a" stroke-width="1.8" fill="none"/>
<path d="M745.9,558.9v2.6" stroke="#000" stroke-width="1.4" fill="none"/>
<text x="654.0" y="569.5" font-size="8.6" textLength="44.6" lengthAdjust="spacingAndGlyphs">shControl</text>
<text x="730.8" y="569.5" font-size="8.6" textLength="29.8" lengthAdjust="spacingAndGlyphs">shNIX</text>
<text x="738.2" y="502.1" font-size="13" textLength="15.2" lengthAdjust="spacingAndGlyphs">**</text>
<text class="r" transform="translate(427.0,321.8) rotate(-90)" font-size="11.4" textLength="76.2" lengthAdjust="spacingAndGlyphs">Relative mRNA level</text>
<text class="r" transform="translate(446.2,299.0) rotate(-90)" font-size="11.4" textLength="31.4" lengthAdjust="spacingAndGlyphs">of NRF2</text>
<text class="r" transform="translate(427.0,405.8) rotate(-90)" font-size="11.4" textLength="79.0" lengthAdjust="spacingAndGlyphs">Relative mRNA level</text>
<text class="r" transform="translate(446.6,384.8) rotate(-90)" font-size="11.4" textLength="32.4" lengthAdjust="spacingAndGlyphs">of NQO1</text>
<text class="r" transform="translate(427.0,489.8) rotate(-90)" font-size="11.4" textLength="80.0" lengthAdjust="spacingAndGlyphs">Relative mRNA level</text>
<text class="r" transform="translate(446.6,467.6) rotate(-90)" font-size="11.4" textLength="32.8" lengthAdjust="spacingAndGlyphs">of GCLC</text>
<text class="r" transform="translate(427.0,570.6) rotate(-90)" font-size="11.4" textLength="74.6" lengthAdjust="spacingAndGlyphs">Relative mRNA level</text>
<text class="r" transform="translate(446.6,554.2) rotate(-90)" font-size="11.4" textLength="40.2" lengthAdjust="spacingAndGlyphs">of GSTM2</text>
</g></svg></body></html>
